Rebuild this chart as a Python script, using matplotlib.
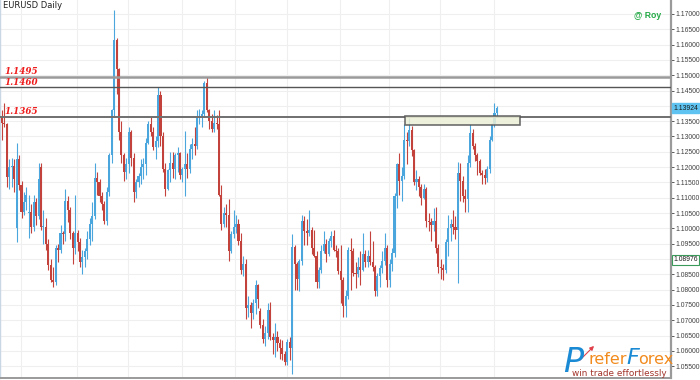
import matplotlib
matplotlib.use("Agg")
import numpy as np
import matplotlib.pyplot as plt
from matplotlib.patches import Rectangle, FancyArrowPatch

# ---------- daily OHLC ----------
opens = [
    1.1365, 1.1345, 1.1340, 1.1168, 1.1200, 1.1205, 1.1000, 1.1225, 1.1140, 1.1055,
    1.1085, 1.1050, 1.1055, 1.1005, 1.1085, 1.1040, 1.1200, 1.1005, 1.1005, 1.0950,
    1.0880, 1.0830, 1.0825, 1.0935, 1.0930, 1.0985, 1.0980, 1.1090, 1.1060, 1.0985,
    1.0935, 1.0985, 1.0955, 1.0890, 1.0905, 1.0925, 1.0965, 1.1015, 1.1040, 1.1165,
    1.1150, 1.1105, 1.1080, 1.1025, 1.1120, 1.1240, 1.1385, 1.1615, 1.1520, 1.1315,
    1.1240, 1.1185, 1.1210, 1.1315, 1.1230, 1.1120, 1.1150, 1.1170, 1.1200, 1.1210,
    1.1280, 1.1340, 1.1315, 1.1265, 1.1285, 1.1435, 1.1300, 1.1195, 1.1130, 1.1190,
    1.1215, 1.1195, 1.1240, 1.1245, 1.1175, 1.1195, 1.1210, 1.1195, 1.1260, 1.1275,
    1.1270, 1.1360, 1.1362, 1.1375, 1.1475, 1.1385, 1.1350, 1.1325, 1.1345, 1.1340,
    1.1110, 1.1015, 1.1050, 1.1045, 1.0925, 1.0980, 1.1005, 1.1015, 1.0960, 1.0865,
    1.0885, 1.0740, 1.0750, 1.0725, 1.0755, 1.0815, 1.0730, 1.0685, 1.0640, 1.0660,
    1.0735, 1.0645, 1.0635, 1.0645, 1.0625, 1.0610, 1.0590, 1.0565, 1.0630, 1.0610,
    1.0940, 1.0885, 1.0835, 1.0895, 1.1025, 1.0990, 1.0985, 1.0995, 1.0935, 1.0910,
    1.0825, 1.0865, 1.0925, 1.0950, 1.0915, 1.0960, 1.0975, 1.0930, 1.0925, 1.0860,
    1.0830, 1.0745, 1.0780, 1.0930, 1.0925, 1.0855, 1.0850, 1.0875, 1.0865, 1.0915,
    1.0890, 1.0910, 1.0890, 1.0875, 1.0795, 1.0845, 1.0870, 1.0895, 1.0935, 1.0830,
    1.0885, 1.0920, 1.1105, 1.1210, 1.1155, 1.1170, 1.1290, 1.1285, 1.1320, 1.1255,
    1.1150, 1.1160, 1.1135, 1.1100, 1.1130, 1.1025, 1.1020, 1.1010, 1.1025, 1.0935,
    1.0875, 1.0870, 1.0865, 1.0955, 1.1000, 1.1015, 1.1005, 1.0995, 1.1180, 1.1155,
    1.1105, 1.1095, 1.1215, 1.1310, 1.1270, 1.1240, 1.1220, 1.1180, 1.1175, 1.1165,
    1.1195, 1.1290, 1.1340, 1.1378,
]
highs = [
    1.1385, 1.1409, 1.1345, 1.1225, 1.1230, 1.1225, 1.1280, 1.1240, 1.1155, 1.1120,
    1.1135, 1.1110, 1.1080, 1.1110, 1.1100, 1.1215, 1.1215, 1.1060, 1.1035, 1.0965,
    1.0900, 1.0875, 1.0945, 1.0950, 1.1010, 1.0990, 1.1130, 1.1105, 1.1070, 1.0990,
    1.1110, 1.0995, 1.0970, 1.0930, 1.0935, 1.0990, 1.1035, 1.1085, 1.1215, 1.1185,
    1.1160, 1.1120, 1.1090, 1.1135, 1.1245, 1.1390, 1.1714, 1.1620, 1.1525, 1.1350,
    1.1245, 1.1230, 1.1332, 1.1320, 1.1245, 1.1160, 1.1180, 1.1225, 1.1230, 1.1295,
    1.1350, 1.1365, 1.1330, 1.1300, 1.1460, 1.1450, 1.1315, 1.1215, 1.1195, 1.1250,
    1.1250, 1.1245, 1.1265, 1.1250, 1.1200, 1.1318, 1.1245, 1.1275, 1.1295, 1.1330,
    1.1385, 1.1390, 1.1385, 1.1480, 1.1495, 1.1390, 1.1375, 1.1385, 1.1370, 1.1385,
    1.1140, 1.1070, 1.1080, 1.1095, 1.0990, 1.1060, 1.1045, 1.1030, 1.0985, 1.0910,
    1.0900, 1.0780, 1.0760, 1.0770, 1.0830, 1.0820, 1.0740, 1.0705, 1.0680, 1.0755,
    1.0760, 1.0660, 1.0690, 1.0665, 1.0640, 1.0635, 1.0600, 1.0640, 1.0645, 1.0981,
    1.0945, 1.0890, 1.0900, 1.1045, 1.1040, 1.1030, 1.1060, 1.1005, 1.0995, 1.0925,
    1.0875, 1.0945, 1.0990, 1.0965, 1.0970, 1.0990, 1.0995, 1.0945, 1.0935, 1.0945,
    1.0840, 1.0800, 1.0940, 1.0970, 1.0935, 1.0890, 1.0905, 1.0925, 1.0985, 1.0930,
    1.0930, 1.0990, 1.0960, 1.0880, 1.0855, 1.0880, 1.0925, 1.0985, 1.0945, 1.0900,
    1.0935, 1.1115, 1.1215, 1.1245, 1.1200, 1.1340, 1.1315, 1.1360, 1.1335, 1.1260,
    1.1190, 1.1170, 1.1145, 1.1145, 1.1135, 1.1050, 1.1035, 1.1065, 1.1070, 1.0950,
    1.0900, 1.0885, 1.0965, 1.1045, 1.1030, 1.1060, 1.1040, 1.1218, 1.1215, 1.1170,
    1.1130, 1.1240, 1.1342, 1.1325, 1.1280, 1.1245, 1.1225, 1.1190, 1.1195, 1.1205,
    1.1300, 1.1345, 1.1410, 1.1400,
]
lows = [
    1.1290, 1.1330, 1.1135, 1.1130, 1.1135, 1.1120, 1.0955, 1.1125, 1.1035, 1.1045,
    1.1060, 1.0970, 1.0985, 1.0990, 1.1010, 1.1030, 1.0995, 1.0950, 1.0930, 1.0865,
    1.0825, 1.0808, 1.0815, 1.0890, 1.0920, 1.0950, 1.0960, 1.1020, 1.0965, 1.0885,
    1.0915, 1.0925, 1.0875, 1.0850, 1.0875, 1.0900, 1.0945, 1.0960, 1.1030, 1.1110,
    1.1085, 1.1060, 1.1015, 1.1010, 1.1105, 1.1215, 1.1367, 1.1440, 1.1290, 1.1215,
    1.1155, 1.1160, 1.1180, 1.1205, 1.1087, 1.1100, 1.1135, 1.1145, 1.1160, 1.1175,
    1.1275, 1.1300, 1.1255, 1.1225, 1.1265, 1.1270, 1.1185, 1.1105, 1.1125, 1.1150,
    1.1165, 1.1160, 1.1185, 1.1160, 1.1150, 1.1105, 1.1165, 1.1180, 1.1225, 1.1240,
    1.1260, 1.1340, 1.1330, 1.1365, 1.1380, 1.1325, 1.1315, 1.1315, 1.1325, 1.1105,
    1.0995, 1.1005, 1.1005, 1.0895, 1.0920, 1.0970, 1.0985, 1.0945, 1.0850, 1.0845,
    1.0705, 1.0710, 1.0675, 1.0705, 1.0720, 1.0740, 1.0675, 1.0625, 1.0615, 1.0640,
    1.0635, 1.0590, 1.0580, 1.0600, 1.0575, 1.0570, 1.0555, 1.0555, 1.0570, 1.0524,
    1.0800, 1.0800, 1.0795, 1.0880, 1.0945, 1.0945, 1.0975, 1.0915, 1.0905, 1.0805,
    1.0805, 1.0855, 1.0920, 1.0890, 1.0910, 1.0940, 1.0925, 1.0905, 1.0850, 1.0755,
    1.0711, 1.0710, 1.0770, 1.0800, 1.0845, 1.0805, 1.0840, 1.0815, 1.0860, 1.0875,
    1.0875, 1.0880, 1.0860, 1.0780, 1.0780, 1.0810, 1.0855, 1.0880, 1.0810, 1.0810,
    1.0860, 1.0905, 1.1065, 1.1110, 1.1090, 1.1160, 1.1210, 1.1270, 1.1235, 1.1140,
    1.1125, 1.1105, 1.1075, 1.1095, 1.1005, 1.0990, 1.0960, 1.0990, 1.0920, 1.0855,
    1.0835, 1.0830, 1.0855, 1.0910, 1.0960, 1.0980, 1.0965, 1.0822, 1.1090, 1.1085,
    1.1055, 1.1055, 1.1200, 1.1260, 1.1220, 1.1175, 1.1175, 1.1145, 1.1145, 1.1150,
    1.1180, 1.1285, 1.1330, 1.1365,
]
closes = [
    1.1345, 1.1340, 1.1168, 1.1200, 1.1205, 1.1160, 1.1225, 1.1140, 1.1055, 1.1085,
    1.1110, 1.1055, 1.1005, 1.1085, 1.1040, 1.1160, 1.1005, 1.1005, 1.0950, 1.0880,
    1.0830, 1.0825, 1.0935, 1.0930, 1.0985, 1.0980, 1.1090, 1.1060, 1.0985, 1.0935,
    1.0985, 1.0955, 1.0890, 1.0905, 1.0925, 1.0965, 1.1015, 1.1040, 1.1165, 1.1150,
    1.1105, 1.1080, 1.1025, 1.1120, 1.1240, 1.1385, 1.1615, 1.1520, 1.1315, 1.1240,
    1.1185, 1.1210, 1.1315, 1.1230, 1.1120, 1.1150, 1.1170, 1.1200, 1.1210, 1.1280,
    1.1340, 1.1315, 1.1265, 1.1285, 1.1435, 1.1300, 1.1195, 1.1130, 1.1190, 1.1215,
    1.1195, 1.1240, 1.1245, 1.1175, 1.1195, 1.1210, 1.1195, 1.1260, 1.1275, 1.1270,
    1.1360, 1.1362, 1.1375, 1.1475, 1.1385, 1.1350, 1.1325, 1.1345, 1.1340, 1.1110,
    1.1015, 1.1050, 1.1045, 1.0925, 1.0980, 1.1005, 1.1015, 1.0960, 1.0865, 1.0885,
    1.0740, 1.0750, 1.0725, 1.0755, 1.0815, 1.0770, 1.0685, 1.0640, 1.0660, 1.0735,
    1.0645, 1.0635, 1.0645, 1.0625, 1.0610, 1.0590, 1.0565, 1.0630, 1.0610, 1.0940,
    1.0885, 1.0835, 1.0895, 1.1025, 1.0990, 1.0985, 1.0995, 1.0935, 1.0910, 1.0825,
    1.0865, 1.0925, 1.0950, 1.0915, 1.0960, 1.0975, 1.0930, 1.0925, 1.0860, 1.0830,
    1.0745, 1.0780, 1.0930, 1.0925, 1.0855, 1.0850, 1.0875, 1.0865, 1.0915, 1.0890,
    1.0910, 1.0890, 1.0875, 1.0795, 1.0845, 1.0870, 1.0895, 1.0935, 1.0830, 1.0885,
    1.0920, 1.1105, 1.1210, 1.1155, 1.1170, 1.1290, 1.1285, 1.1320, 1.1255, 1.1150,
    1.1160, 1.1135, 1.1100, 1.1130, 1.1025, 1.1020, 1.1010, 1.1025, 1.0935, 1.0875,
    1.0870, 1.0865, 1.0955, 1.1000, 1.1015, 1.1005, 1.0995, 1.1180, 1.1155, 1.1105,
    1.1095, 1.1215, 1.1310, 1.1270, 1.1240, 1.1220, 1.1180, 1.1175, 1.1165, 1.1195,
    1.1290, 1.1340, 1.1378, 1.13924,
]

# first candle of each month (vertical grid)
month_starts = [8, 31, 52, 74, 96, 117, 139, 159, 180, 202]

# horizontal levels and their labels
levels = [1.1495, 1.1460, 1.1365]
level_labels = ["1.1495", "1.1460", "1.1365"]

# resistance zone (candle index range, price range)
zone_x = [165.3, 212.5]
zone_y = [1.1338, 1.1367]

last_price = 1.13924
marker_price = 1.08976

UP = "#4aa6dc"
DOWN = "#c4423c"

# ---------- figure ----------
W, H = 700, 380
fig = plt.figure(figsize=(W / 100, H / 100), dpi=100)
ax = fig.add_axes([0, 2 / H, 671 / W, 1 - 2 / H])

x = np.arange(len(closes))
o = np.array(opens)
h = np.array(highs)
l = np.array(lows)
c = np.array(closes)
up = c >= o
cols = np.where(up, UP, DOWN)

ax.vlines(x, l, h, colors=cols, lw=0.8, zorder=3)
body_lo = np.minimum(o, c)
body_h = np.maximum(np.abs(c - o), 0.00025)
ax.bar(x, body_h, bottom=body_lo, width=0.85, color=cols, linewidth=0, zorder=4)

# levels
ax.axhline(levels[0], color="#9a9a9a", lw=1.8, zorder=5)
ax.axhline(levels[1], color="#555555", lw=1.0, zorder=5)
ax.axhline(levels[2], color="#6f6f6f", lw=1.4, zorder=5)
for lv, lab in zip(levels, level_labels):
    ax.text(1.0, lv + 0.0008, lab, color="#ee1c1c", fontsize=6.3, fontweight="bold",
            fontstyle="italic", family="DejaVu Serif", va="baseline", ha="left", zorder=6)

ax.add_patch(Rectangle((zone_x[0], zone_y[0]), zone_x[1] - zone_x[0], zone_y[1] - zone_y[0],
                       facecolor="#ecefd6", edgecolor="#555555", lw=1.2, alpha=0.85, zorder=6))

# axes setup
ax.set_xlim(-0.82, 274.4)
ax.set_ylim(1.051143, 1.174571)
ax.set_facecolor("white")
ticks = np.round(np.arange(1.055, 1.1701, 0.005), 3)
ax.set_yticks(ticks)
ax.set_yticklabels([f"{t:.5f}" for t in ticks], family="Liberation Sans")
ax.yaxis.tick_right()
ax.tick_params(axis="y", labelsize=4.9, colors="#404040", length=2, pad=1.0, width=0.6)
ax.set_xticks([])
ax.grid(axis="y", color="#efefef", lw=0.8, zorder=0)
for m in month_starts:
    ax.axvline(m - 0.3, color="#efefef", lw=0.8, zorder=0)
ax.spines["top"].set_visible(False)
ax.spines["right"].set_color("#9a9a9a")
ax.spines["right"].set_linewidth(1.6)
ax.spines["bottom"].set_color("#9a9a9a")
ax.spines["bottom"].set_linewidth(1.4)
ax.spines["left"].set_color("#c9d6e4")
ax.spines["left"].set_linewidth(1.0)

# price boxes on the axis
yt = ax.get_yaxis_transform()
ax.text(1.003, last_price, f"{last_price:.5f}", transform=yt, fontsize=4.9, color="#1a1a1a",
        family="Liberation Sans", va="center", ha="left", zorder=10, clip_on=False,
        bbox=dict(boxstyle="square,pad=0.2", facecolor="#5ec3f0", edgecolor="#5ec3f0"))
ax.text(1.003, marker_price, f"{marker_price:.5f}", transform=yt, fontsize=4.9, color="#1a1a1a",
        family="Liberation Sans", va="center", ha="left", zorder=10, clip_on=False,
        bbox=dict(boxstyle="square,pad=0.2", facecolor="white", edgecolor="#3a9a5a", lw=0.8))

# titles
fig.text(3 / W, 1 - 6 / H, "EURUSD Daily", fontsize=6, color="#222222", va="center", ha="left")
fig.text(634 / W, 1 - 15 / H, "@ Roy", fontsize=6.2, color="#22aa44", fontweight="bold",
         family="Liberation Sans", va="center", ha="left")

# logo
fig.text(563 / W, 1 - 372 / H, "P", fontsize=24, color="#1a8ad4", fontstyle="italic",
         va="baseline", ha="left")
fig.text(588 / W, 1 - 364 / H, "refer", fontsize=11.5, color="#f28b1e", va="baseline", ha="left")
fig.text(626 / W, 1 - 364 / H, "F", fontsize=16, color="#1a8ad4", fontstyle="italic",
         va="baseline", ha="left")
fig.text(638 / W, 1 - 364 / H, "orex", fontsize=11.5, color="#f28b1e", va="baseline", ha="left")
fig.text(572 / W, 1 - 376 / H, "win trade effortlessly", fontsize=6.4, color="#a3352c",
         va="baseline", ha="left")
fig.patches.append(FancyArrowPatch(
    (578 / W, 1 - 362 / H), (596 / W, 1 - 344 / H), transform=fig.transFigure,
    arrowstyle="-|>", mutation_scale=6, color="#e0404a", lw=0.8))

fig.savefig("out.png", dpi=100)
